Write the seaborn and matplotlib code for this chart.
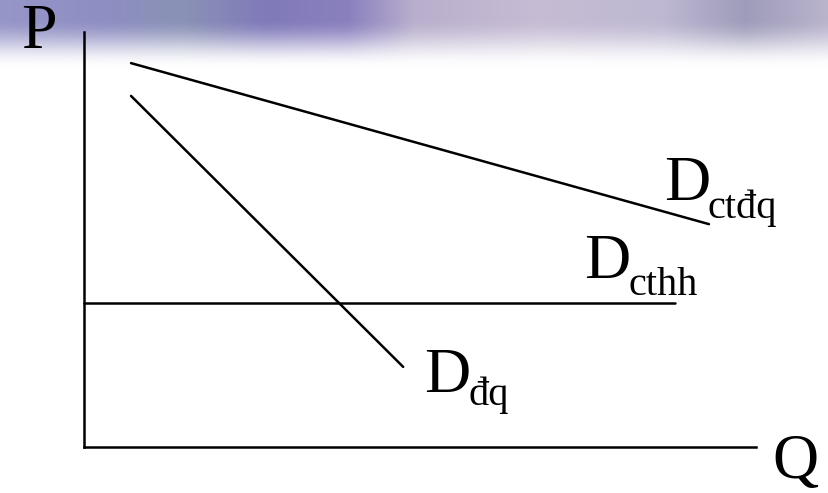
import numpy as np
import pandas as pd
import matplotlib
matplotlib.use("Agg")
import matplotlib.pyplot as plt
import seaborn as sns

# Demand curves (quantity Q, price P) in arbitrary units
q_ctdq = [0.7, 9.3]
p_ctdq = [9.25, 5.37]
q_dq = [0.7, 4.75]
p_dq = [8.46, 1.93]
q_cthh = [0.0, 8.8]
p_cthh = [3.46, 3.46]

curve_names = ["ctđq", "đq", "cthh"]

sns.set_theme(style="white")
plt.rcParams["font.family"] = ["Liberation Serif", "DejaVu Serif"]

W, H = 829, 493
fig = plt.figure(figsize=(W / 100, H / 100), dpi=100)

# Slide-style header band: purple-grey gradient fading to white
bg = fig.add_axes([0, 0, 1, 1])
bg.set_axis_off()
xs = np.linspace(0, 1, W)
stops_x = [0.0, 0.12, 0.22, 0.32, 0.42, 0.5, 0.65, 0.8, 0.9, 1.0]
stops_c = np.array([
    [150, 150, 200],
    [142, 142, 195],
    [138, 146, 182],
    [128, 122, 186],
    [138, 128, 190],
    [185, 175, 205],
    [198, 188, 212],
    [190, 184, 210],
    [158, 156, 186],
    [186, 180, 205],
]) / 255.0
row = np.stack([np.interp(xs, stops_x, stops_c[:, k]) for k in range(3)], axis=1)
ys = np.arange(H, dtype=float)
t = np.clip((ys - 18) / 50.0, 0, 1)
alpha = (1 - t * t * (3 - 2 * t))[:, None, None]
img = np.ones((H, W, 3)) * (1 - alpha) + row[None, :, :] * alpha
bg.imshow(img, aspect="auto", extent=[0, W, H, 0], interpolation="bilinear")
bg.set_xlim(0, W)
bg.set_ylim(H, 0)

ax = fig.add_axes([84 / W, (H - 447) / H, 672 / W, 415 / H])
ax.patch.set_alpha(0)

df = pd.concat([
    pd.DataFrame({"Q": q_ctdq, "P": p_ctdq, "curve": curve_names[0]}),
    pd.DataFrame({"Q": q_dq, "P": p_dq, "curve": curve_names[1]}),
    pd.DataFrame({"Q": q_cthh, "P": p_cthh, "curve": curve_names[2]}),
])
sns.lineplot(data=df, x="Q", y="P", hue="curve", palette=["black"] * 3,
             legend=False, linewidth=1.8, ax=ax, clip_on=False,
             estimator=None, sort=False)

ax.set_xlim(0, 10)
ax.set_ylim(0, 10)
ax.set_xticks([])
ax.set_yticks([])
ax.set_xlabel("")
ax.set_ylabel("")
for side in ["top", "right"]:
    ax.spines[side].set_visible(False)
for side in ["left", "bottom"]:
    ax.spines[side].set_color("black")
    ax.spines[side].set_linewidth(1.8)


def ptext(x, y, s, size):
    fig.text(x / W, 1 - y / H, s, fontsize=size, color="black",
             ha="left", va="baseline")


big, small = 46, 29
ptext(21, 48, "P", big)
ptext(772, 478, "Q", big)

ptext(664, 200, "D", big)
ptext(708, 218, "ctđq", small)
ptext(584, 278, "D", big)
ptext(629, 295, "cthh", small)
ptext(424, 392, "D", big)
ptext(469, 405, "đq", small)

fig.savefig("out.png", dpi=100)
